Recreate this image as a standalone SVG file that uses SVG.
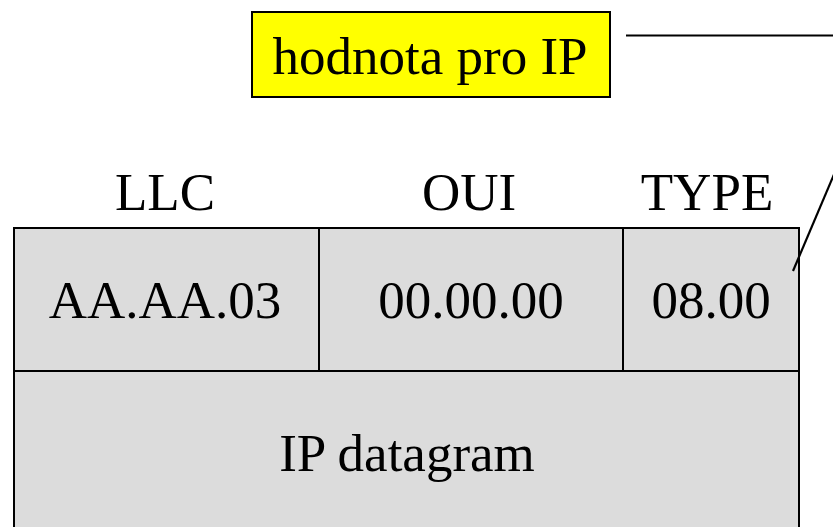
<svg xmlns="http://www.w3.org/2000/svg" width="833" height="527" viewBox="0 0 833 527">
<style>
text{font-family:"Liberation Serif","Times New Roman",serif;font-size:53px;fill:#000;text-anchor:middle}
.cell{fill:#dcdcdc;stroke:#000;stroke-width:2}
.conn{stroke:#000;stroke-width:2.2;fill:none}
</style>
<rect width="833" height="527" fill="#fff"/>
<g id="label">
<rect x="252" y="12" width="358" height="85" fill="#ffff00" stroke="#000" stroke-width="2"/>
<text x="430" y="74">hodnota pro IP</text>
</g>
<g id="headers">
<text x="165" y="210">LLC</text>
<text x="469" y="210">OUI</text>
<text x="707" y="210">TYPE</text>
</g>
<g id="llc">
<rect class="cell" x="14" y="228" width="305" height="143"/>
<text x="165" y="318">AA.AA.03</text>
</g>
<g id="oui">
<rect class="cell" x="319" y="228" width="304" height="143"/>
<text x="471" y="318">00.00.00</text>
</g>
<g id="type">
<rect class="cell" x="623" y="228" width="176" height="143"/>
<text x="711" y="318">08.00</text>
</g>
<g id="datagram">
<rect class="cell" x="14" y="371" width="785" height="170"/>
<text x="407" y="471">IP datagram</text>
</g>
<g id="connectors">
<line class="conn" x1="626" y1="35.5" x2="833" y2="35.5"/>
<line class="conn" x1="835" y1="172" x2="793" y2="271"/>
</g>
</svg>
